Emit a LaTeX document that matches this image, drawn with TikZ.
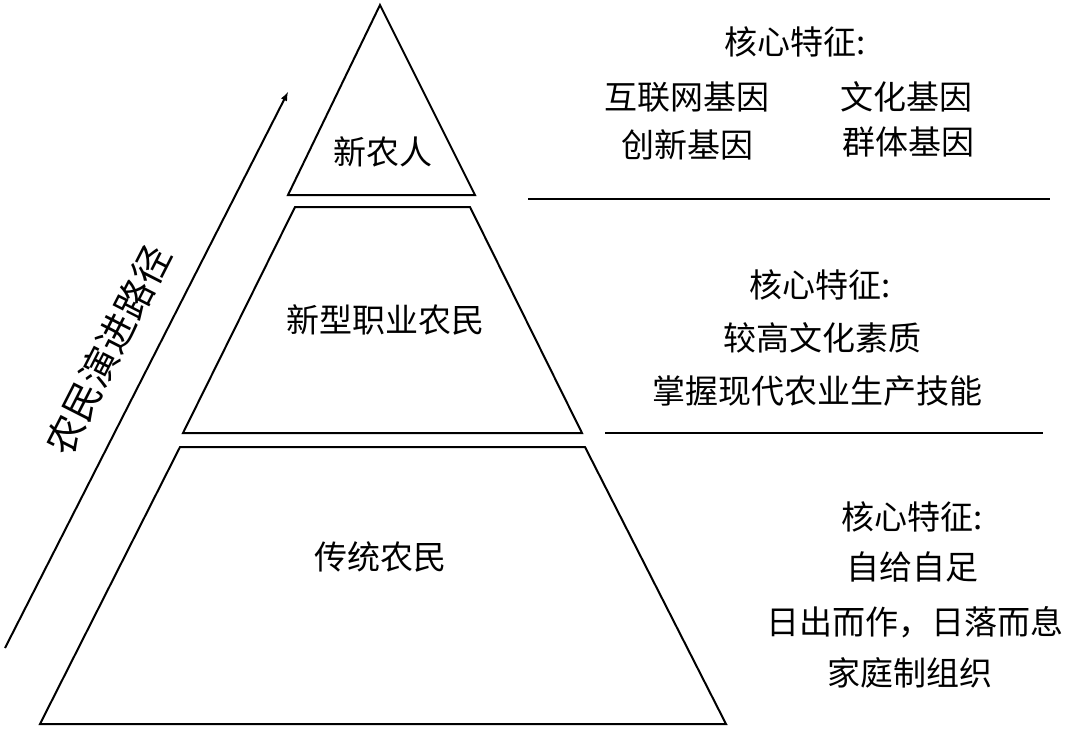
\documentclass[tikz,border=0pt]{standalone}
\usepackage{fontspec}
\setmainfont{Noto Sans CJK SC}
\begin{document}
\begin{tikzpicture}[x=1pt,y=-1pt,
  lab/.style={font=\fontsize{33}{36}\selectfont, inner sep=0pt},
  shp/.style={draw, line width=2pt, line join=miter}]
\useasboundingbox (0,0) rectangle (1080,731);
\draw[shp] (380,5) -- (475,195) -- (288,195) -- cycle;
\draw[shp] (295,207) -- (470,207) -- (582,433) -- (183,433) -- cycle;
\draw[shp] (180,447) -- (585,447) -- (726,724) -- (40,724) -- cycle;
\draw[line width=2pt] (528,199) -- (1050,199);
\draw[line width=2pt] (605,433) -- (1043,433);
\coordinate (a0) at (5,648);
\coordinate (a1) at (288,92);
\draw[line width=2pt,-latex] (a0) -- (a1);
\node[lab, font=\fontsize{38}{40}\selectfont, rotate=63] (path) at (108,350) {农民演进路径};
\node[lab] (t1) at (383,152) {新农人};
\node[lab] (t2) at (385,320) {新型职业农民};
\node[lab] (t3) at (380,557) {传统农民};
\node[lab] (h1) at (795,42) {核心特征:};
\node[lab] (r1) at (687,97) {互联网基因};
\node[lab] (r2) at (906,97) {文化基因};
\node[lab] (r3) at (687,145) {创新基因};
\node[lab] (r4) at (908,142) {群体基因};
\node[lab] (h2) at (820,285) {核心特征:};
\node[lab] (m1) at (822,338) {较高文化素质};
\node[lab] (m2) at (817,391) {掌握现代农业生产技能};
\node[lab] (h3) at (912,517) {核心特征:};
\node[lab] (b1) at (912,567) {自给自足};
\node[lab] (b2) at (915,622) {日出而作，日落而息};
\node[lab] (b3) at (910,673) {家庭制组织};
\end{tikzpicture}
\end{document}
